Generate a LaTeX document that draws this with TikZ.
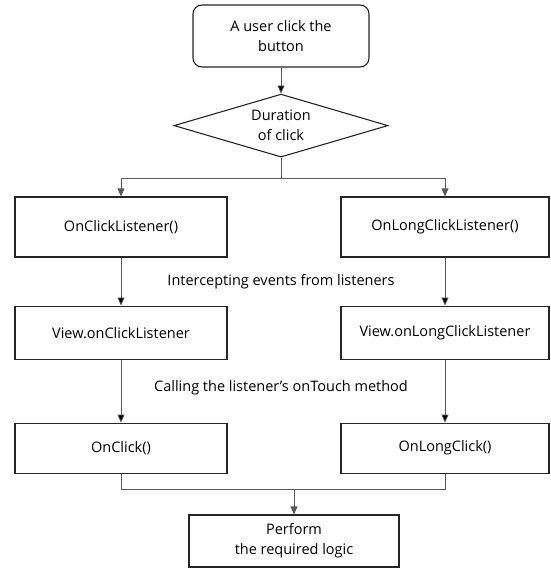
\documentclass[tikz,border=0pt]{standalone}
\usepackage{fontspec}
\setmainfont{Open Sans}
\usepackage{tikz}
\usetikzlibrary{arrows.meta,positioning,shapes.geometric}

\tikzset{
  box/.style={draw=black!85,line width=1.1pt,rectangle,align=center,inner sep=2pt},
  startbox/.style={box,rounded corners=9pt,minimum width=176pt,minimum height=62pt},
  procbox/.style={box,minimum height=60pt},
  decision/.style={draw=black!85,line width=1.1pt,diamond,aspect=3.4,inner sep=0pt,
    align=center,minimum width=214pt,minimum height=63pt},
  conn/.style={draw=black!65,line width=0.8pt},
  note/.style={inner sep=0pt}
}

\begin{document}
\begin{tikzpicture}[x=1pt,y=1pt,>={Triangle[length=8pt,width=7pt]},
    font=\fontsize{14.5}{20}\selectfont]
    \useasboundingbox (0,0) rectangle (550,-569);

    \node[startbox] (start) at (281,-36)        {A user click the\\button};
    \node[decision] (dur)   [below=26pt of start] {Duration\\of click};
    \coordinate[below=21pt of dur.south] (split);

    \node[procbox,minimum width=212pt] (ocl)  at (121,-227) {OnClickListener()};
    \node[procbox,minimum width=208pt] (olcl) at (445,-227) {OnLongClickListener()};
    \node[procbox,minimum width=212pt,minimum height=53pt] (vocl)  [below=48pt of ocl]  {View.onClickListener};
    \node[procbox,minimum width=208pt,minimum height=53pt] (volcl) [below=48pt of olcl] {View.onLongClickListener};
    \node[procbox,minimum width=212pt,minimum height=50pt] (oc)    [below=63pt of vocl]  {OnClick()};
    \node[procbox,minimum width=208pt,minimum height=50pt] (olc)   [below=63pt of volcl] {OnLongClick()};
    \node[procbox,minimum width=210pt,minimum height=52pt] (perf) at (294,-541) {Perform\\the required logic};
    \coordinate[above=25pt of perf.north] (join);

    \node[note] (intercept) at (281,-282) {Intercepting events from listeners};
    \node[note] (calling)   at (281,-388) {Calling the listener's onTouch method};

    \path[conn,->] (start) edge (dur)
                   (ocl)   edge (vocl)
                   (vocl)  edge (oc)
                   (olcl)  edge (volcl)
                   (volcl) edge (olc);
    \draw[conn] (dur.south) -- (split);
    \draw[conn,->] (split) -| (ocl.north);
    \draw[conn,->] (split) -| (olcl.north);
    \draw[conn] (oc.south) |- (join);
    \draw[conn] (olc.south) |- (join);
    \draw[conn,->] (join) -- (perf.north);

  \end{tikzpicture}
\end{document}
